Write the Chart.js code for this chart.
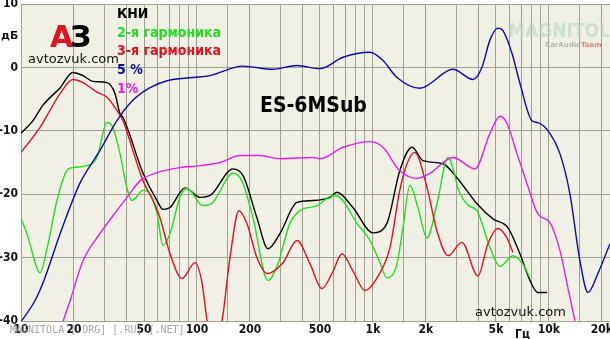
<!DOCTYPE html>
<html>
<head>
<meta charset="utf-8">
<script src="https://cdn.jsdelivr.net/npm/chart.js@4.4.1/dist/chart.umd.min.js"></script>
<style>
  html, body { margin: 0; padding: 0; background: #fff; }
  #wrap { width: 610px; height: 339px; }
</style>
</head>
<body>
<div id="wrap"><canvas id="myChart" width="610" height="339"></canvas></div>
<script>
// 축 눈금
const xLabelTicks = [10, 20, 50, 100, 200, 500, 1000, 2000, 5000, 10000, 20000];
const xLabelText = ['10', '20', '50', '100', '200', '500', '1k', '2k', '5k', '10k', '20k'];
const yTicks = [10, 0, -10, -20, -30, -40];

// 5 % (blue)
const blueFreq = [10, 12, 13.5, 16.7, 21.6, 28.1, 35.1, 43.2, 54.1, 67.6, 94.8, 118.6, 182.5, 270, 370, 500, 676, 962, 1140, 1370, 1850, 2850, 3700, 4160, 4620, 5130, 5480, 6170, 6840, 8000, 8650, 10130, 11550, 13150, 15000, 16660, 18980, 22230];
const blueDb = [-40.1, -36.8, -33.6, -26.2, -18.3, -13.1, -8.4, -5.2, -3.2, -2.1, -1.6, -1.3, 0.2, -0.3, 0.3, -0.2, 1.6, 2.4, 1.1, -1.6, -3.3, -0.3, -1.9, 0, 4.3, 6.2, 5.8, 2.2, -2.5, -8.4, -8.7, -10.4, -13.6, -19.9, -30.5, -35.5, -32.5, -27.8];

// 1% (magenta)
const magFreq = [17.3, 19, 22.5, 28.1, 33.3, 40, 47.4, 59.3, 80, 104, 135, 175, 228, 296, 456, 500, 676, 962, 1140, 1420, 1780, 2110, 2850, 3800, 4620, 5270, 5770, 6580, 7500, 8650, 10130, 11550, 12820, 14060];
const magDb = [-40.1, -36.8, -30.5, -26.2, -23.4, -20.5, -17.9, -16.6, -15.8, -15.5, -15.0, -13.9, -13.9, -14.4, -14.2, -14.4, -12.6, -11.7, -12.6, -16.3, -17.5, -16.7, -14.2, -16.0, -10.4, -7.7, -8.8, -13.6, -18.3, -23.1, -24.5, -28.9, -34.8, -40];

// КНИ (black)
const thdFreq = [10, 11.7, 13.3, 16.7, 19.7, 22.5, 25.6, 30.8, 34.2, 36.5, 38, 49.4, 59.3, 64.1, 70.3, 85.5, 104, 119, 160, 183, 219, 253, 296, 370, 456, 570, 624, 769, 1000, 1200, 1420, 1667, 1925, 2500, 3000, 3900, 4810, 5850, 6840, 7800, 8650, 9750];
const thdDb = [-10.4, -8.4, -6.0, -3.2, -0.8, -1.3, -2.2, -2.4, -4.1, -7.3, -7.9, -16.7, -21.0, -22.4, -22.1, -19.0, -20.5, -20.2, -16.0, -17.1, -23.7, -28.6, -26.2, -21.3, -21.0, -20.5, -19.7, -22.1, -26.1, -24.6, -16.3, -12.6, -14.7, -15.2, -17.4, -21.5, -23.9, -25.3, -29.4, -33.6, -35.5, -35.5];

// 3-я гармоника (red)
const h3Freq = [10, 12.8, 14.6, 16.7, 19.7, 22.5, 27, 30.8, 35.1, 38, 43.2, 49.4, 56.2, 61.6, 70.3, 82.2, 97.5, 107, 114, 125, 139, 154, 173, 192, 219, 250, 308, 370, 439, 513, 585, 667, 769, 901, 1055, 1250, 1420, 1560, 1730, 2030, 2310, 2670, 3200, 3950, 4500, 5130, 5770, 6240];
const h3Db = [-13.4, -9.5, -6.8, -4.1, -1.9, -2.4, -3.9, -4.7, -6.8, -8.4, -13.1, -17.9, -21.0, -23.7, -29.4, -33.3, -30.8, -34.1, -39.9, -44.7, -39.9, -30.0, -22.6, -24.6, -30.0, -32.5, -30.8, -27.3, -31.0, -34.9, -32.5, -29.4, -32.1, -35.2, -33.2, -28.4, -19.4, -15.2, -13.4, -19.0, -25.8, -29.7, -27.6, -32.9, -27.8, -25.4, -26.9, -29.2];

// 2-я гармоника (green)
const h2Freq = [10, 10.8, 12.3, 12.8, 14.1, 16, 18.2, 19.7, 23.7, 27, 30.8, 33.3, 36.5, 40, 42.7, 49.4, 54.1, 59.3, 64.1, 70.3, 80, 87.8, 108, 123, 160, 180, 208, 253, 288, 337, 385, 481, 593, 649, 811, 962, 1097, 1200, 1370, 1480, 1622, 1800, 2030, 2310, 2670, 3120, 3500, 3900, 4620, 5270, 6240, 7110, 7800];
const h2Db = [-23.9, -26.2, -31.6, -32.4, -28.4, -21.0, -16.3, -15.8, -15.5, -14.2, -8.7, -9.5, -13.6, -19.0, -21.0, -19.4, -19.9, -23.1, -28.1, -26.2, -20.5, -19.1, -21.8, -21.3, -16.7, -17.9, -23.7, -33.6, -31.0, -24.6, -22.6, -21.8, -20.2, -20.5, -24.6, -27.3, -30.8, -33.2, -31.0, -25.3, -18.6, -22.1, -26.9, -21.5, -14.2, -19.9, -21.8, -22.6, -28.4, -31.4, -29.7, -31.0, -33.2];

function pts(freq, db){
  return freq.map((f, i) => ({x: f, y: db[i]}));
}

function line(label, freq, db, color){
  return {
    label: label,
    data: pts(freq, db),
    borderColor: color,
    borderWidth: 1.4,
    pointRadius: 0,
    fill: false,
    cubicInterpolationMode: 'monotone'
  };
}

const gridColor = '#9f9f92';

// 배경 + 글자
const decor = {
  id: 'decor',
  beforeDraw(chart){
    const {ctx, chartArea: a} = chart;
    ctx.save();
    ctx.fillStyle = '#f1f0e4';
    ctx.fillRect(a.left, a.top, a.right - a.left, a.bottom - a.top);
    ctx.restore();
  },
  beforeDatasetsDraw(chart){
    const {ctx} = chart;
    ctx.save();
    // watermark top right
    ctx.font = 'bold 19px "DejaVu Sans Condensed", "DejaVu Sans", sans-serif';
    ctx.fillStyle = 'rgba(185, 215, 185, 0.6)';
    ctx.fillText('MAGNITOLA', 508, 37);
    ctx.font = 'bold 7px "DejaVu Sans", sans-serif';
    ctx.fillStyle = 'rgba(165, 165, 165, 0.8)';
    ctx.fillText('CarAudio', 545, 47);
    ctx.fillStyle = 'rgba(220, 110, 110, 0.85)';
    ctx.fillText('Team', 581, 47);
    ctx.restore();
  },
  afterDatasetsDraw(chart){
    const {ctx} = chart;
    ctx.save();
    ctx.textBaseline = 'alphabetic';
    ctx.textAlign = 'left';
    // legend
    ctx.font = 'bold 14px "DejaVu Sans Condensed", "DejaVu Sans", sans-serif';
    ctx.fillStyle = '#000';
    ctx.fillText('КНИ', 117, 18);
    ctx.fillStyle = '#22dd22';
    ctx.fillText('2-я гармоника', 117, 37);
    ctx.fillStyle = '#e3101e';
    ctx.fillText('3-я гармоника', 117, 55);
    ctx.fillStyle = '#0a0aa8';
    ctx.fillText('5 %', 117, 74);
    ctx.fillStyle = '#e81ee8';
    ctx.fillText('1%', 117, 93);
    // title
    ctx.fillStyle = '#000';
    ctx.font = 'bold 21px "DejaVu Sans Condensed", "DejaVu Sans", sans-serif';
    ctx.fillText('ES-6MSub', 260, 112);
    // logo
    ctx.font = 'bold 30px "DejaVu Sans", sans-serif';
    ctx.fillStyle = '#e3101e';
    ctx.fillText('А', 50, 47);
    ctx.fillStyle = '#000';
    ctx.fillText('З', 70, 47);
    ctx.font = '13px "DejaVu Sans", sans-serif';
    ctx.fillStyle = '#111';
    ctx.fillText('avtozvuk.com', 28, 63);
    ctx.fillText('avtozvuk.com', 475, 316);
    // units
    ctx.font = 'bold 11px "DejaVu Sans", sans-serif';
    ctx.fillText('дБ', 1, 39);
    ctx.font = 'bold 12px "DejaVu Sans Condensed", "DejaVu Sans", sans-serif';
    ctx.fillText('Гц', 515, 338);
    // bottom watermark
    ctx.font = '10px "DejaVu Sans Mono", monospace';
    ctx.fillStyle = 'rgba(150, 150, 150, 0.85)';
    ctx.fillText('MAGNITOLA [.ORG] [.RU] [.NET]', 10, 333);
    ctx.restore();
  }
};

let ctx = document.getElementById('myChart');

let config = {
  type: 'line',
  data: {
    datasets: [
      line('5 %', blueFreq, blueDb, '#0a0aa8'),
      line('1%', magFreq, magDb, '#e81ee8'),
      line('3-я гармоника', h3Freq, h3Db, '#e3101e'),
      line('2-я гармоника', h2Freq, h2Db, '#22dd22'),
      line('КНИ', thdFreq, thdDb, '#000000')
    ]
  },
  options: {
    responsive: false,
    animation: false,
    layout: {
      padding: {top: 4, right: 0, left: 0, bottom: 0}
    },
    plugins: {
      legend: {display: false},
      tooltip: {enabled: false}
    },
    scales: {
      x: {
        type: 'logarithmic',
        min: 10,
        max: 22230,
        afterFit: (s) => { s.height = 18; s.paddingLeft = 0; s.paddingRight = 0; },
        border: {color: gridColor},
        grid: {color: gridColor, drawTicks: false},
        ticks: {
          autoSkip: false,
          maxRotation: 0,
          padding: 2,
          color: '#111',
          font: {family: '"DejaVu Sans Condensed", "DejaVu Sans", sans-serif', size: 12, weight: 'bold'},
          callback: (v) => {
            const i = xLabelTicks.findIndex(t => Math.abs(t - v) < 1e-6 * t);
            return i >= 0 ? xLabelText[i] : '';
          }
        }
      },
      y: {
        min: -40,
        max: 10,
        afterFit: (s) => { s.width = 21; s.paddingTop = 0; s.paddingBottom = 0; },
        border: {color: gridColor},
        grid: {color: gridColor, drawTicks: false},
        ticks: {
          stepSize: 10,
          padding: 3,
          color: '#111',
          font: {family: '"DejaVu Sans Condensed", "DejaVu Sans", sans-serif', size: 12, weight: 'bold'},
          callback: (v) => yTicks.includes(v) ? String(v) : ''
        }
      }
    }
  },
  plugins: [decor]
};

let myChart = new Chart(ctx, config);
</script>
</body>
</html>
